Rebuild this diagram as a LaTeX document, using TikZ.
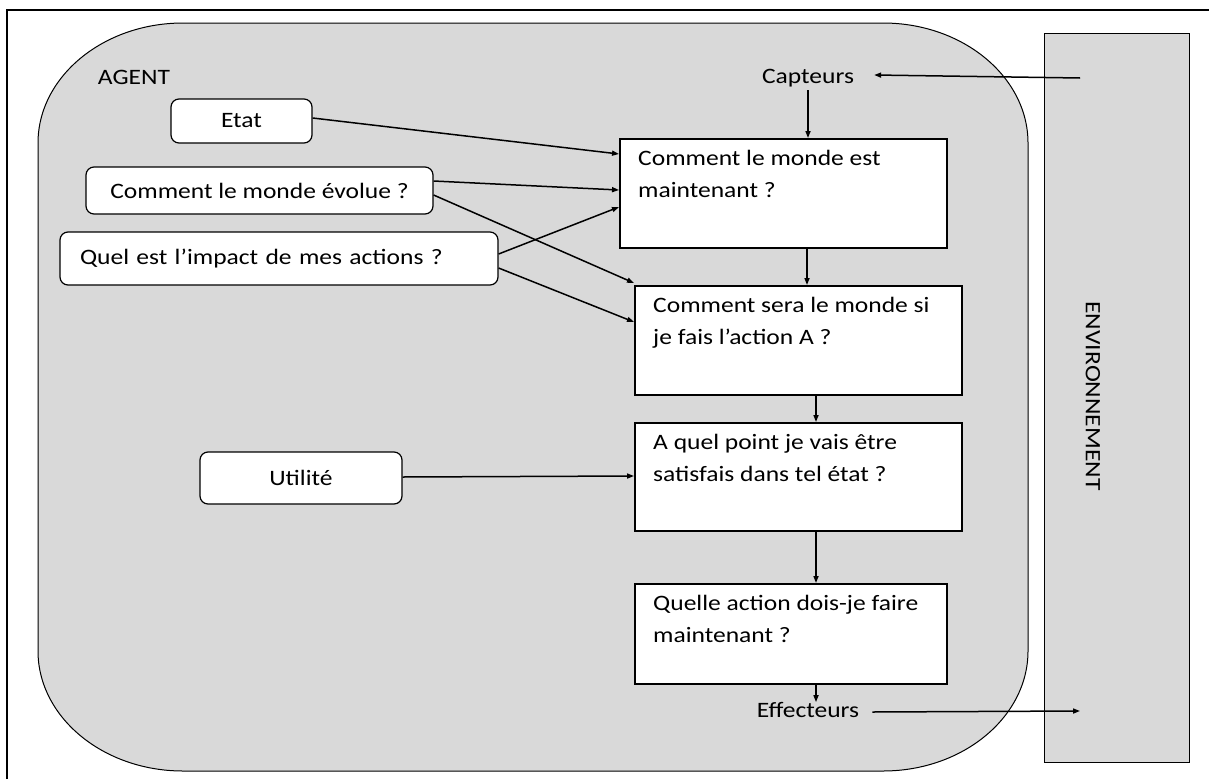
\documentclass[tikz,border=0pt]{standalone}
\usepackage{fontspec}
\setmainfont{Carlito}[FakeStretch=1.16]
\usetikzlibrary{arrows.meta,calc}
\definecolor{agentgrey}{HTML}{D9D9D9}
\begin{document}
\begin{tikzpicture}[x=1pt,y=-1pt,
  every node/.style={font=\fontsize{22}{32}\selectfont, inner sep=0pt},
  qbox/.style={draw, line width=1.5pt, fill=white, anchor=north west},
  kbox/.style={draw, line width=1.2pt, fill=white, rounded corners=8pt},
  qtext/.style={anchor=base west, align=left},
  conn/.style={line width=1.5pt, -{Triangle[length=7pt,width=5pt]}},
]
\useasboundingbox (0,0) rectangle (1209,779);
% page frame
\draw[line width=1.2pt] (7,779) -- (7,10) -- (1209,10);

% agent body
\draw[line width=1pt, fill=agentgrey]
  (183,23) -- (883,23) .. controls (963,23) and (1028,77) .. (1028,143)
  -- (1028,651) .. controls (1028,717) and (963,771) .. (883,771)
  -- (183,771) .. controls (103,771) and (38,717) .. (38,651)
  -- (38,143) .. controls (38,77) and (103,23) .. (183,23) -- cycle;

% environment
\node[draw, line width=1pt, fill=agentgrey, anchor=north west,
      minimum width=145pt, minimum height=729pt] (env) at (1044,33) {};
\node[rotate=-90] (envlabel) at (1093,396) {ENVIRONNEMENT};

\node (agent) at (134,77) {AGENT};
\node (capt) at (808,78) {Capteurs};
\node (eff) at (808,710) {Effecteurs};

% knowledge boxes
\node[kbox, minimum width=141pt, minimum height=44pt] (etat) at (241.5,121) {Etat};
\node[kbox, minimum width=347pt, minimum height=47pt] (evol) at (259.5,190.5) {Comment le monde évolue ?};
\node[kbox, minimum height=53pt, inner xsep=20pt, text width=398pt, align=left] (impact) at (279,258.5) {Quel est l’impact de mes actions ?};
\node[kbox, minimum width=202pt, minimum height=52pt] (util) at (301,478) {Utilité};

% question boxes
\node[qbox, minimum width=327pt, minimum height=109pt] (b1) at (619,138) {};
\node[qbox, minimum width=327pt, minimum height=109pt] (b2) at (634,285) {};
\node[qbox, minimum width=327pt, minimum height=108pt] (b3) at (634,422) {};
\node[qbox, minimum width=312pt, minimum height=100pt] (b4) at (634,583) {};

% question texts, placed by the baseline of their second line
\node[qtext] (t1) at ($(b1.north west)+(19,59)$) {Comment le monde est\\maintenant ?};
\node[qtext] (t2) at ($(b2.north west)+(19,59)$) {Comment sera le monde si\\je fais l’action A ?};
\node[qtext] (t3) at ($(b3.north west)+(19,59)$) {A quel point je vais être\\satisfais dans tel état ?};
\node[qtext] (t4) at ($(b4.north west)+(19,59)$) {Quelle action dois-je faire\\maintenant ?};

% sensing and acting links
\coordinate (envin) at (1080,78);
\coordinate (envout) at (1080,711);
\draw[conn] (envin) -- ($(capt.east)+(20,-3)$);
\draw[conn] (capt.south |- 0,90) -- (capt.south |- b1.north);
\draw[conn] ($(eff.east)+(13,2)$) -- (envout);

% chain of questions
\draw[conn] (807,0 |- b1.south) -- (807,0 |- b2.north);
\draw[conn] (816,0 |- b2.south) -- (816,0 |- b3.north);
\draw[conn] (816,0 |- b3.south) -- (816,0 |- b4.north);
\draw[conn] (816,0 |- b4.south) -- (816,0 |- eff.north);

% knowledge feeding the questions
\draw[conn] ($(etat.east)+(0,-3)$) -- ($(b1.north west)+(0,16)$);
\draw[conn] ($(evol.east)+(0,-9.5)$) -- ($(b1.north west)+(0,52)$);
\draw[conn] ($(evol.east)+(0,4.5)$) -- ($(b2.north west)+(0,-2)$);
\draw[conn] ($(impact.east)+(0,-4.5)$) -- ($(b1.north west)+(0,69)$);
\draw[conn] ($(impact.east)+(0,9.5)$) -- ($(b2.north west)+(0,37)$);
\draw[conn] ($(util.east)+(0,-1)$) -- ($(b3.north west)+(0,54)$);
\end{tikzpicture}
\end{document}
